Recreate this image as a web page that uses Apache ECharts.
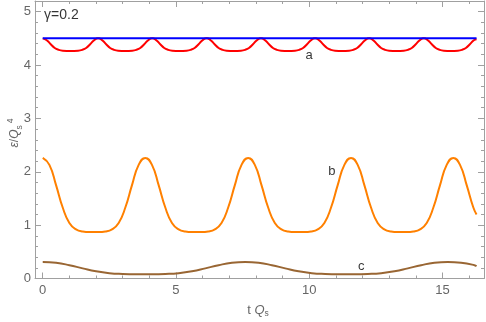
<!DOCTYPE html>
<html><head><meta charset="utf-8">
<script src="https://cdn.jsdelivr.net/npm/echarts@6/dist/echarts.min.js"></script>
<style>html,body{margin:0;padding:0;background:#fff}#c{width:486px;height:322px}</style>
</head><body><div id="c"></div>
<script>
// ---- data ----
const xTickLabels = [0, 5, 10, 15];
const xMinorTicks = [0,1,2,3,4,5,6,7,8,9,10,11,12,13,14,15,16];
const yTickLabels = [0, 1, 2, 3, 4, 5];

const tBlue = [0, 16.28];
const vBlue = [4.5, 4.5];

const tA = [0,0.15,0.3,0.45,0.6,0.75,1.04,
 1.33,1.48,1.63,1.78,1.93,2.08,2.23,2.38,2.53,2.68,2.83,3.095,
 3.36,3.51,3.66,3.81,3.96,4.11,4.26,4.41,4.56,4.71,4.86,5.13,
 5.40,5.55,5.70,5.85,6.00,6.15,6.30,6.45,6.60,6.75,6.90,7.17,
 7.44,7.59,7.74,7.89,8.04,8.19,8.34,8.49,8.64,8.79,8.94,9.205,
 9.47,9.62,9.77,9.92,10.07,10.22,10.37,10.52,10.67,10.82,10.97,11.235,
 11.50,11.65,11.80,11.95,12.10,12.25,12.40,12.55,12.70,12.85,13.00,13.275,
 13.55,13.70,13.85,14.00,14.15,14.30,14.45,14.60,14.75,14.90,15.05,15.315,
 15.58,15.73,15.88,16.03,16.18,16.28];
const vA = [4.50,4.465,4.39,4.32,4.285,4.27,4.265,
 4.27,4.285,4.32,4.39,4.465,4.50,4.465,4.39,4.32,4.285,4.27,4.265,
 4.27,4.285,4.32,4.39,4.465,4.50,4.465,4.39,4.32,4.285,4.27,4.265,
 4.27,4.285,4.32,4.39,4.465,4.50,4.465,4.39,4.32,4.285,4.27,4.265,
 4.27,4.285,4.32,4.39,4.465,4.50,4.465,4.39,4.32,4.285,4.27,4.265,
 4.27,4.285,4.32,4.39,4.465,4.50,4.465,4.39,4.32,4.285,4.27,4.265,
 4.27,4.285,4.32,4.39,4.465,4.50,4.465,4.39,4.32,4.285,4.27,4.265,
 4.27,4.285,4.32,4.39,4.465,4.50,4.465,4.39,4.32,4.285,4.27,4.265,
 4.27,4.285,4.32,4.39,4.465,4.485];

const tB = [0,0.25,0.5,0.75,1.0,1.25,1.5,1.75,1.93,
 2.10,2.35,2.60,2.85,3.10,3.35,3.60,3.85,4.10,4.35,4.60,4.85,5.10,5.35,5.60,5.78,
 5.96,6.21,6.46,6.71,6.96,7.21,7.46,7.71,7.96,8.21,8.46,8.71,8.96,9.21,9.46,9.64,
 9.82,10.07,10.32,10.57,10.82,11.07,11.32,11.57,11.82,12.07,12.32,12.57,12.82,13.07,13.32,13.49,
 13.66,13.91,14.16,14.41,14.66,14.91,15.16,15.41,15.66,15.91,16.16,16.28];
const vB = [2.26,2.13,1.75,1.33,1.04,0.92,0.88,0.87,0.87,
 0.87,0.88,0.92,1.04,1.33,1.75,2.13,2.26,2.13,1.75,1.33,1.04,0.92,0.88,0.87,0.87,
 0.87,0.88,0.92,1.04,1.33,1.75,2.13,2.26,2.13,1.75,1.33,1.04,0.92,0.88,0.87,0.87,
 0.87,0.88,0.92,1.04,1.33,1.75,2.13,2.26,2.13,1.75,1.33,1.04,0.92,0.88,0.87,0.87,
 0.87,0.88,0.92,1.04,1.33,1.75,2.13,2.26,2.13,1.75,1.33,1.20];

const tC = [0,0.5,1,1.5,2,2.5,3,3.5,3.8,
 4.1,4.6,5.1,5.6,6.1,6.6,7.1,7.6,8.1,8.6,9.1,9.6,10.1,10.6,11.1,11.4,
 11.7,12.2,12.7,13.2,13.7,14.2,14.7,15.2,15.7,16.2,16.28];
const vC = [0.31,0.295,0.25,0.19,0.135,0.10,0.085,0.08,0.08,
 0.08,0.085,0.10,0.135,0.19,0.25,0.295,0.31,0.295,0.25,0.19,0.135,0.10,0.085,0.08,0.08,
 0.08,0.085,0.10,0.135,0.19,0.25,0.295,0.31,0.295,0.25,0.23];

const annotNames = ['a', 'b', 'c'];
const annotT = [10.0, 10.85, 11.95];
const annotV = [4.18, 2.0, 0.235];
const gammaText = 'γ=0.2';
const gammaPos = [0.05, 4.93];

// ---- chart ----
const zip = (t, v) => t.map((x, i) => [x, v[i]]);
const X_MIN = -0.29, X_MAX = 16.56, Y_MIN = 0, Y_MAX = 5.2;
const frameCol = '#a0a0a0';
const labCol = '#666';
const gridBox = {left: 35, right: 2, top: 1, bottom: 43.5};

function xAx(grid, pos, major) {
  return {
    type: 'value', gridIndex: grid, position: pos, min: X_MIN, max: X_MAX,
    axisLine: {show: major, onZero: false, lineStyle: {color: frameCol, width: 1}},
    axisTick: {show: true, inside: true, length: major ? 6 : 3,
      customValues: major ? xTickLabels : xMinorTicks, lineStyle: {color: frameCol}},
    axisLabel: {show: major && pos === 'bottom', customValues: xTickLabels, color: labCol,
      fontFamily: 'Liberation Sans', fontSize: 13, margin: 5},
    splitLine: {show: false}
  };
}
function yAx(grid, pos, major) {
  return {
    type: 'value', gridIndex: grid, position: pos, min: Y_MIN, max: Y_MAX,
    interval: major ? 1 : 0.2,
    axisLine: {show: major, onZero: false, lineStyle: {color: frameCol, width: 1}},
    axisTick: {show: true, inside: true, length: major ? 6 : 3, lineStyle: {color: frameCol}},
    axisLabel: {show: major && pos === 'left', color: labCol, fontFamily: 'Liberation Sans',
      fontSize: 13, margin: 4, formatter: v => (yTickLabels.includes(v) ? String(v) : '')},
    splitLine: {show: false}
  };
}

const chart = echarts.init(document.getElementById('c'), null, {renderer: 'canvas'});
const lineS = (name, data, color) => ({
  type: 'line', name, data, xAxisIndex: 0, yAxisIndex: 0, showSymbol: false, symbol: 'none',
  smooth: 0.5, lineStyle: {color, width: 2}, z: 3, animation: false
});

chart.setOption({
  animation: false,
  backgroundColor: '#fff',
  grid: [Object.assign({}, gridBox), Object.assign({}, gridBox)],
  xAxis: [xAx(0, 'bottom', true), xAx(0, 'top', true), xAx(1, 'bottom', false), xAx(1, 'top', false)],
  yAxis: [yAx(0, 'left', true), yAx(0, 'right', true), yAx(1, 'left', false), yAx(1, 'right', false)],
  series: [
    lineS('c', zip(tC, vC), '#996633'),
    lineS('b', zip(tB, vB), '#ff8000'),
    lineS('a', zip(tA, vA), '#ff0000'),
    lineS('blue', zip(tBlue, vBlue), '#0000ff'),
    {
      type: 'scatter', xAxisIndex: 0, yAxisIndex: 0, symbolSize: 0, z: 5,
      data: annotNames.map((n, i) => ({name: n, value: [annotT[i], annotV[i]]})),
      label: {show: true, position: 'inside', formatter: p => p.name, color: '#000',
        fontFamily: 'Liberation Sans', fontSize: 13}
    },
    {
      type: 'scatter', xAxisIndex: 0, yAxisIndex: 0, symbolSize: 0, z: 5,
      data: [{name: gammaText, value: gammaPos}],
      label: {show: true, position: 'right', distance: 0, formatter: p => p.name, color: '#000',
        fontFamily: 'Liberation Sans', fontSize: 14}
    }
  ],
  graphic: [
    {
      type: 'text', x: 258, y: 310,
      style: {
        text: '{m|t }{i|Q}{s|s}',
        align: 'center', verticalAlign: 'middle',
        rich: {
          m: {fontFamily: 'Liberation Sans', fontSize: 13, fill: labCol, lineHeight: 16},
          i: {fontFamily: 'Liberation Sans', fontStyle: 'italic', fontSize: 13, fill: labCol, lineHeight: 16},
          s: {fontFamily: 'Liberation Sans', fontSize: 8.5, fill: labCol, lineHeight: 10, verticalAlign: 'bottom'}
        }
      }
    },
    {
      type: 'text', x: 15, y: 133, rotation: Math.PI / 2,
      style: {
        text: '{i|ε}{m|/}{i|Q}{s|s}{p|4}',
        align: 'center', verticalAlign: 'middle',
        rich: {
          m: {fontFamily: 'Liberation Sans', fontSize: 12, fill: labCol, lineHeight: 18},
          i: {fontFamily: 'Liberation Sans', fontStyle: 'italic', fontSize: 12, fill: labCol, lineHeight: 18},
          s: {fontFamily: 'Liberation Sans', fontSize: 8.5, fill: labCol, lineHeight: 10, verticalAlign: 'bottom'},
          p: {fontFamily: 'Liberation Sans', fontSize: 8.5, fill: labCol, lineHeight: 10, verticalAlign: 'top', padding: [0, 0, 0, 2]}
        }
      }
    }
  ]
});
</script></body></html>
